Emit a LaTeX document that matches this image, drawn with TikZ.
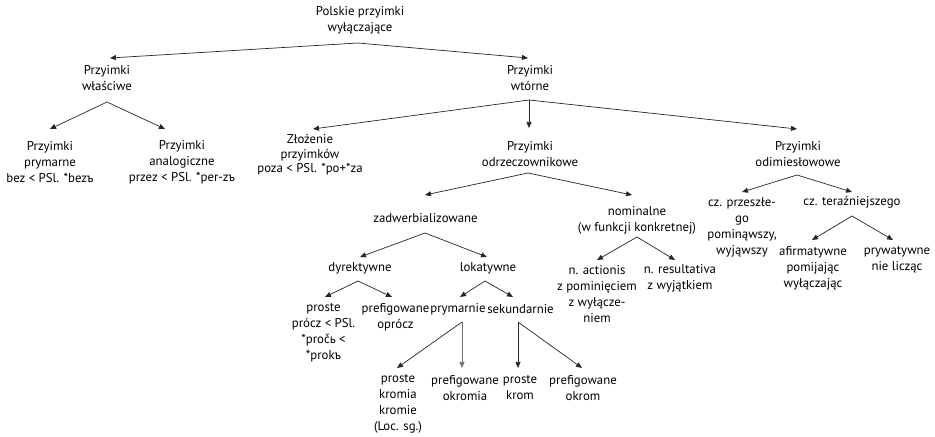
\documentclass[tikz,border=0pt]{standalone}
\usepackage{fontspec}
\setmainfont{PT Sans}
\usetikzlibrary{arrows.meta}
\begin{document}
\begin{tikzpicture}[x=1bp,y=-1bp,
  lbl/.style={align=center,inner sep=0pt,font=\fontsize{12.8bp}{16bp}\selectfont},
  arr/.style={draw=black!85,line width=0.7bp,-{Triangle[length=6bp,width=5bp]}},
  grayarr/.style={arr,draw=black!55}]
\useasboundingbox (0,0) rectangle (935,437);
% nodes
\node[lbl] (root) at (360,20) {Polskie przyimki\\wyłączające};
\node[lbl] (wlasc) at (107,78.5) {Przyimki\\właściwe};
\node[lbl] (wtorne) at (530,78.5) {Przyimki\\wtórne};
\node[lbl] (prym) at (50,162) {Przyimki\\prymarne\\bez < PSl. *bezъ};
\node[lbl] (analog) at (182,162) {Przyimki\\analogiczne\\przez < PSl. *per-zъ};
\node[lbl,font=\fontsize{12.8bp}{14.5bp}\selectfont] (zloz) at (310,155) {Złożenie\\przyimków\\poza < PSl. *po+*za};
\node[lbl] (odrz) at (530,154) {Przyimki\\odrzeczownikowe};
\node[lbl] (odim) at (798,154) {Przyimki\\odimiesłowowe};
\node[lbl] (zadw) at (425.5,218) {zadwerbializowane};
\node[lbl] (nomin) at (637,220) {nominalne\\(w funkcji konkretnej)};
\node[lbl] (dyr) at (360,268) {dyrektywne};
\node[lbl] (lok) at (488,268) {lokatywne};
\node[lbl] (prost1) at (323.5,333) {proste\\prócz < PSl.\\*pročь <\\*prokъ};
\node[lbl] (pref1) at (395.5,317) {prefigowane\\oprócz};
\node[lbl] (prymn) at (458,309) {prymarnie};
\node[lbl] (sekn) at (520.5,309) {sekundarnie};
\node[lbl] (actionis) at (597,294.5) {n. actionis\\z pominięciem\\z wyłącze-\\niem};
\node[lbl] (result) at (680,278.5) {n. resultativa\\z wyjątkiem};
\node[lbl] (przesz) at (742,227) {cz. przeszłe-\\go\\pominąwszy,\\wyjąwszy};
\node[lbl] (teraz) at (852,202) {cz. teraźniejszego};
\node[lbl] (afirm) at (813,268) {afirmatywne\\pomijając\\wyłączając};
\node[lbl] (pryw) at (897,260) {prywatywne\\nie licząc};
\node[lbl] (kromia) at (398,404) {proste\\kromia\\kromie\\(Loc. sg.)};
\node[lbl] (okromia) at (465,388) {prefigowane\\okromia};
\node[lbl] (krom) at (520,388) {proste\\krom};
\node[lbl] (okrom) at (583,388) {prefigowane\\okrom};
% apex points
\coordinate (root-a) at (358,43);
\coordinate (wlasc-a) at (107,102);
\coordinate (wtorne-a) at (529,100);
\coordinate (odrz-a) at (528,173);
\coordinate (zadw-a) at (425,233);
\coordinate (nomin-a) at (637,237);
\coordinate (dyr-a) at (358,281);
\coordinate (lok-a) at (485,281);
\coordinate (prymn-a) at (462,322);
\coordinate (sekn-a) at (518,322);
\coordinate (odim-a) at (797,175);
\coordinate (teraz-a) at (852,216);
% tip points
\coordinate (wlasc-t) at (110,58);
\coordinate (wtorne-t) at (528,58);
\coordinate (prym-t) at (50,129);
\coordinate (analog-t) at (165,129);
\coordinate (zloz-t) at (313,129);
\coordinate (odrz-t) at (529,128);
\coordinate (odim-t) at (797,129);
\coordinate (zadw-t) at (425,195);
\coordinate (nomin-t) at (632,195);
\coordinate (dyr-t) at (360,257);
\coordinate (lok-t) at (487,257);
\coordinate (actionis-t) at (597,260);
\coordinate (result-t) at (675,260);
\coordinate (prost1-t) at (325,297);
\coordinate (pref1-t) at (392,297);
\coordinate (prymn-t) at (460,297);
\coordinate (sekn-t) at (513,297);
\coordinate (kromia-t) at (397,368);
\coordinate (okromia-t) at (462,368);
\coordinate (krom-t) at (518,368);
\coordinate (okrom-t) at (582,368);
\coordinate (przesz-t) at (742,192);
\coordinate (teraz-t) at (852,192);
\coordinate (afirm-t) at (812,240);
\coordinate (pryw-t) at (893,240);
% connectors
\draw[arr] (root-a) -- (wlasc-t);
\draw[arr] (root-a) -- (wtorne-t);
\draw[arr] (wlasc-a) -- (prym-t);
\draw[arr] (wlasc-a) -- (analog-t);
\draw[arr] (wtorne-a) -- (zloz-t);
\draw[arr] (wtorne-a) -- (odrz-t);
\draw[arr] (wtorne-a) -- (odim-t);
\draw[arr] (odrz-a) -- (zadw-t);
\draw[arr] (odrz-a) -- (nomin-t);
\draw[arr] (zadw-a) -- (dyr-t);
\draw[arr] (zadw-a) -- (lok-t);
\draw[arr] (nomin-a) -- (actionis-t);
\draw[arr] (nomin-a) -- (result-t);
\draw[arr] (dyr-a) -- (prost1-t);
\draw[arr] (dyr-a) -- (pref1-t);
\draw[arr] (lok-a) -- (prymn-t);
\draw[arr] (lok-a) -- (sekn-t);
\draw[arr] (prymn-a) -- (kromia-t);
\draw[grayarr] (prymn-a) -- (okromia-t);
\draw[arr] (sekn-a) -- (krom-t);
\draw[arr] (sekn-a) -- (okrom-t);
\draw[arr] (odim-a) -- (przesz-t);
\draw[arr] (odim-a) -- (teraz-t);
\draw[arr] (teraz-a) -- (afirm-t);
\draw[arr] (teraz-a) -- (pryw-t);
\end{tikzpicture}
\end{document}
